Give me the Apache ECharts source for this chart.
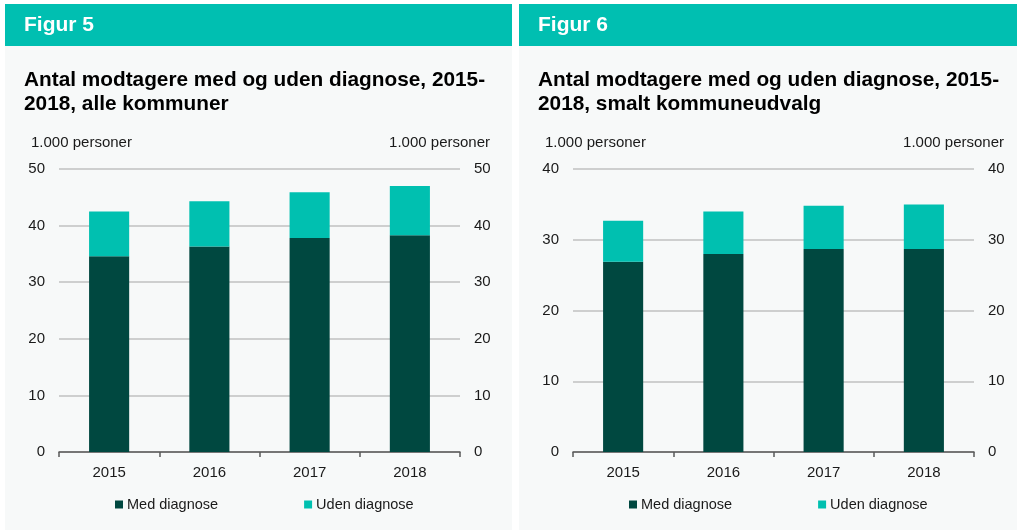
<!DOCTYPE html>
<html>
<head>
<meta charset="utf-8">
<script src="https://cdn.jsdelivr.net/npm/echarts@6/dist/echarts.min.js"></script>
<style>
  html, body { margin: 0; padding: 0; background: #ffffff; }
  #chart { width: 1017px; height: 530px; }
</style>
</head>
<body>
<div id="chart"></div>
<script>
// data (1.000 personer)
const years = ['2015', '2016', '2017', '2018']
const medAlle = [34.6, 36.3, 37.8, 38.3]
const udenAlle = [7.9, 8.0, 8.1, 8.7]
const medSmalt = [26.9, 28.0, 28.7, 28.7]
const udenSmalt = [5.8, 6.0, 6.1, 6.3]
const panelNames = ['Figur 5', 'Figur 6']
const panelTitles = [
  'Antal modtagere med og uden diagnose, 2015-\n2018, alle kommuner',
  'Antal modtagere med og uden diagnose, 2015-\n2018, smalt kommuneudvalg',
]
const axisMax = [50, 40]
const unitLabel = '1.000 personer'

const DARK = '#004840'
const TEAL = '#00c0b0'
const FONT = '"Liberation Sans", Arial, sans-serif'

const chart = echarts.init(document.getElementById('chart'), null, { renderer: 'canvas' })

const panelX = [5, 519]
const panelW = [507, 498]
const shift = [0, 514]

function panelGraphics(i) {
  const x = panelX[i]
  return [
    { type: 'rect', shape: { x, y: 4, width: panelW[i], height: 526 }, style: { fill: '#f7f9f9' }, z: -10, silent: true },
    { type: 'rect', shape: { x, y: 4, width: panelW[i], height: 42 }, style: { fill: '#00bfb1' }, z: -9, silent: true },
  ]
}

const titles = []
const grids = []
const xAxes = []
const yAxes = []
const series = []
const legends = []

;[0, 1].forEach((i) => {
  const dx = shift[i]
  titles.push({
    text: panelNames[i],
    left: 24 + dx,
    top: 13,
    padding: 0,
    textStyle: { color: '#ffffff', fontFamily: FONT, fontSize: 21, fontWeight: 'bold', lineHeight: 24 },
  })
  titles.push({
    text: panelTitles[i],
    left: 24 + dx,
    top: 68,
    padding: 0,
    textStyle: { color: '#000000', fontFamily: FONT, fontSize: 20.8, fontWeight: 'bold', lineHeight: 24 },
  })
  titles.push({
    text: unitLabel,
    left: 31 + dx,
    top: 134,
    padding: 0,
    textStyle: { color: '#1a1a1a', fontFamily: FONT, fontSize: 15, fontWeight: 'normal', lineHeight: 18 },
  })
  titles.push({
    text: unitLabel,
    right: 1017 - (490 + dx),
    top: 134,
    padding: 0,
    textStyle: { color: '#1a1a1a', fontFamily: FONT, fontSize: 15, fontWeight: 'normal', lineHeight: 18 },
  })

  grids.push({ left: 59 + dx, top: 169, width: 401, height: 283, containLabel: false })

  xAxes.push({
    type: 'category',
    gridIndex: i,
    data: years,
    boundaryGap: true,
    axisLine: { lineStyle: { color: '#595959', width: 1.5 } },
    axisTick: { show: true, length: 5, interval: 0, lineStyle: { color: '#595959', width: 1.5 } },
    axisLabel: { color: '#1a1a1a', fontFamily: FONT, fontSize: 15, margin: 13 },
  })

  const yCommon = {
    type: 'value',
    gridIndex: i,
    min: 0,
    max: axisMax[i],
    interval: 10,
    axisLine: { show: false },
    axisTick: { show: false },
    axisLabel: { color: '#1a1a1a', fontFamily: FONT, fontSize: 15, margin: 14 },
  }
  yAxes.push({
    ...yCommon,
    position: 'left',
    splitLine: { show: true, lineStyle: { color: '#c0c0c0', width: 1.5 } },
  })
  yAxes.push({
    ...yCommon,
    position: 'right',
    splitLine: { show: false },
  })

  const med = i === 0 ? medAlle : medSmalt
  const uden = i === 0 ? udenAlle : udenSmalt
  series.push({
    name: 'Med diagnose',
    type: 'bar',
    stack: 'total' + i,
    xAxisIndex: i,
    yAxisIndex: i * 2,
    data: med,
    barWidth: '40%',
    itemStyle: { color: DARK },
    z: 3,
  })
  series.push({
    name: 'Uden diagnose',
    type: 'bar',
    stack: 'total' + i,
    xAxisIndex: i,
    yAxisIndex: i * 2,
    data: uden,
    barWidth: '40%',
    itemStyle: { color: TEAL },
    z: 3,
  })

  legends.push({
    left: 115 + dx,
    top: 497,
    padding: 0,
    itemWidth: 8,
    itemHeight: 8,
    itemGap: 86,
    icon: 'rect',
    selectedMode: false,
    data: [
      { name: 'Med diagnose', itemStyle: { color: DARK } },
      { name: 'Uden diagnose', itemStyle: { color: TEAL } },
    ],
    textStyle: { color: '#1a1a1a', fontFamily: FONT, fontSize: 14.5, padding: [0, 0, 0, -1] },
  })
})

chart.setOption({
  animation: false,
  backgroundColor: '#ffffff',
  graphic: [...panelGraphics(0), ...panelGraphics(1)],
  title: titles,
  grid: grids,
  xAxis: xAxes,
  yAxis: yAxes,
  legend: legends,
  series,
})
</script>
</body>
</html>
